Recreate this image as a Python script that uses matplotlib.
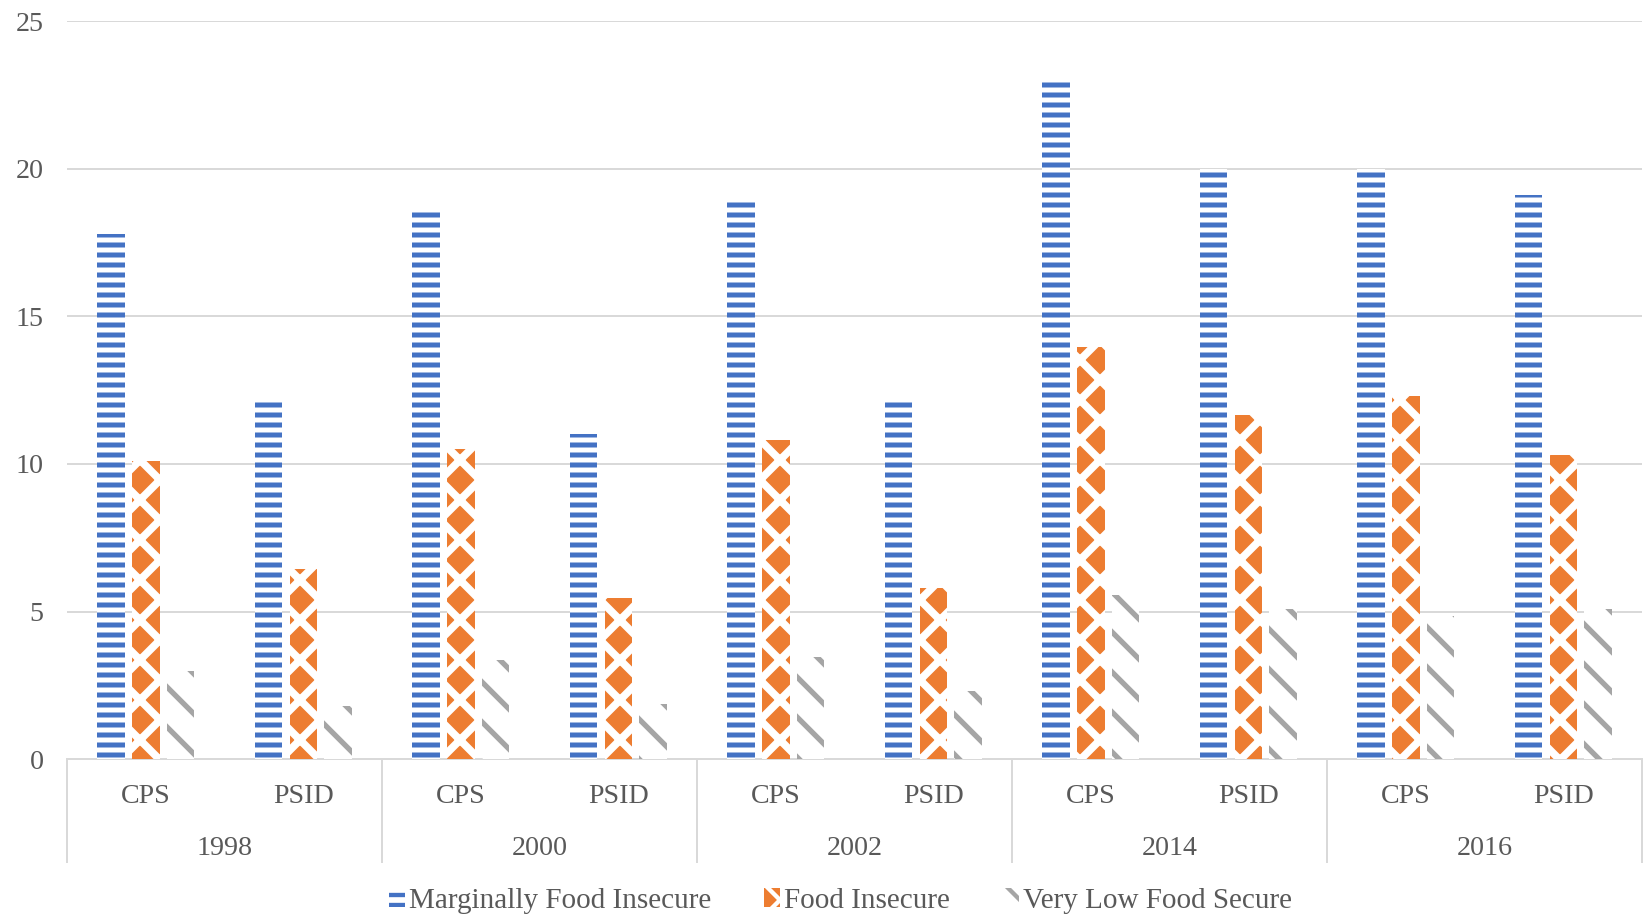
import matplotlib.pyplot as plt
import numpy as np

years = ['1998', '2000', '2002', '2014', '2016']
surveys = ['CPS', 'PSID']
marginal = [17.8, 12.2, 18.55, 11.0, 18.9, 12.2, 23.0, 20.0, 20.0, 19.1]
insecure = [10.1, 6.45, 10.5, 5.45, 10.8, 5.8, 13.95, 11.65, 12.3, 10.3]
very_low = [3.0, 1.8, 3.35, 1.85, 3.45, 2.3, 5.55, 5.1, 4.85, 5.1]

plt.rcParams['font.family'] = ['Liberation Serif', 'DejaVu Serif']
plt.rcParams['hatch.linewidth'] = 2.6
txt = '#595959'
grid = '#d9d9d9'

fig = plt.figure(figsize=(1648/120, 919/120), dpi=120)
ax = fig.add_axes([0.0407, 0.174, 0.9557, 0.803])

x = np.arange(len(marginal))
w = 0.175
b1 = ax.bar(x - 0.22, marginal, w, facecolor='white', edgecolor='#4472c4', linewidth=0,
            hatch='--', label='Marginally Food Insecure', zorder=3)
b2 = ax.bar(x, insecure, w, facecolor='#ed7d31', edgecolor='white', linewidth=0,
            hatch='x', label='Food Insecure', zorder=3)
b3 = ax.bar(x + 0.22, very_low, w, facecolor='white', edgecolor='#a5a5a5', linewidth=0,
            hatch='\\', label='Very Low Food Secure', zorder=3)

# thicker white lines on the orange bars, if this matplotlib allows it
for bars, lw in [(b1, 3.0), (b2, 4.6), (b3, 3.2)]:
    for p in bars:
        if hasattr(p, 'set_hatch_linewidth'):
            p.set_hatch_linewidth(lw)

ax.set_xlim(-0.5, len(marginal) - 0.5)
ax.set_ylim(0, 25)
ax.set_yticks([0, 5, 10, 15, 20, 25])
ax.yaxis.grid(True, color=grid, linewidth=1.2, zorder=0)
ax.set_axisbelow(True)
for s in ['top', 'right', 'left']:
    ax.spines[s].set_visible(False)
ax.spines['bottom'].set_color(grid)
ax.spines['bottom'].set_linewidth(1.2)
ax.tick_params(axis='y', length=0, labelsize=16.8, labelcolor=txt, pad=14)
ax.tick_params(axis='x', length=0, labelsize=16.8, labelcolor=txt, pad=15)
ax.set_xticks(x)
ax.set_xticklabels(surveys * len(years))

# year labels and separators
trans = ax.get_xaxis_transform()
for i, yr in enumerate(years):
    ax.text(2 * i + 0.5, -0.121, yr, transform=trans, ha='center', va='center',
            fontsize=16.8, color=txt)
for b in np.arange(-0.5, len(marginal), 2):
    ax.plot([b, b], [0, -0.14], transform=trans, color=grid, linewidth=1.2,
            clip_on=False)

fig.legend(loc='center', bbox_to_anchor=(0.51, 0.02), ncol=3, frameon=False,
           fontsize=17.5, labelcolor=txt, handlelength=0.55, handleheight=0.6,
           handletextpad=0.15, columnspacing=1.8)

fig.savefig('out.png', dpi=120)
